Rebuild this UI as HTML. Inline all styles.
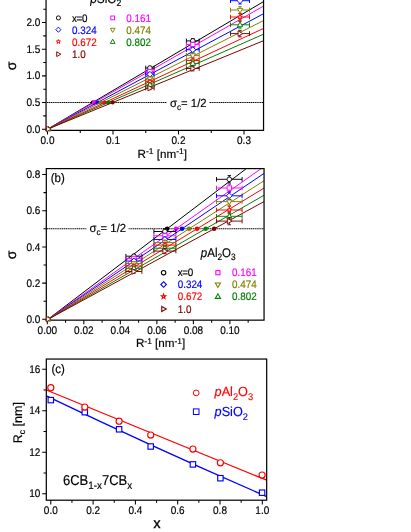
<!DOCTYPE html><html><head><meta charset="utf-8"><title>chart</title><style>html,body{margin:0;padding:0;background:#fff}svg{display:block;will-change:transform;opacity:0.999}</style></head><body>
<svg width="411" height="532" viewBox="0 0 411 532" font-family="Liberation Sans, sans-serif" text-rendering="geometricPrecision">
<rect width="411" height="532" fill="#fff"/>
<clipPath id="ca"><rect x="46.05" y="0" width="217.5" height="130.3"/></clipPath>
<path d="M47 102.5H263.55" stroke="#000" stroke-width="1.1" stroke-dasharray="1.3 0.57" fill="none"/>
<g clip-path="url(#ca)">
<path d="M47.5 129.2L263.55 1.6" stroke="#000000" stroke-width="1.0" fill="none"/>
<circle cx="92.71" cy="102.5" r="2.0" fill="#000000"/>
<path d="M47.5 129.2L263.55 6.1" stroke="#ff00ff" stroke-width="1.0" fill="none"/>
<circle cx="94.36" cy="102.5" r="2.4" fill="#ff00ff"/>
<path d="M47.5 129.2L263.55 13.7" stroke="#0000ff" stroke-width="1.0" fill="none"/>
<circle cx="97.44" cy="102.5" r="2.0" fill="#0000ff"/>
<path d="M47.5 129.2L263.55 20.6" stroke="#808000" stroke-width="1.0" fill="none"/>
<circle cx="100.62" cy="102.5" r="2.0" fill="#808000"/>
<path d="M47.5 129.2L263.55 28.4" stroke="#ff0000" stroke-width="1.0" fill="none"/>
<circle cx="104.73" cy="102.5" r="2.0" fill="#ff0000"/>
<path d="M47.5 129.2L263.55 34.2" stroke="#008000" stroke-width="1.0" fill="none"/>
<circle cx="108.22" cy="102.5" r="2.0" fill="#008000"/>
<path d="M47.5 129.2L263.55 40.7" stroke="#800000" stroke-width="1.0" fill="none"/>
<circle cx="112.68" cy="102.5" r="2.0" fill="#800000"/>
</g>
<path d="M46.05 0V130.3H263.55V0" stroke="#000" stroke-width="1.22" fill="none"/>
<text transform="translate(40.30 132.80) scale(1 1.1)" font-size="10.0" text-anchor="end" fill="#000" stroke="#000" stroke-width="0.16" >0.0</text>
<text transform="translate(40.30 106.13) scale(1 1.1)" font-size="10.0" text-anchor="end" fill="#000" stroke="#000" stroke-width="0.16" >0.5</text>
<text transform="translate(40.30 79.46) scale(1 1.1)" font-size="10.0" text-anchor="end" fill="#000" stroke="#000" stroke-width="0.16" >1.0</text>
<text transform="translate(40.30 52.79) scale(1 1.1)" font-size="10.0" text-anchor="end" fill="#000" stroke="#000" stroke-width="0.16" >1.5</text>
<text transform="translate(40.30 26.12) scale(1 1.1)" font-size="10.0" text-anchor="end" fill="#000" stroke="#000" stroke-width="0.16" >2.0</text>
<text transform="translate(47.50 144.00) scale(1 1.1)" font-size="10.0" text-anchor="middle" fill="#000" stroke="#000" stroke-width="0.16" >0.0</text>
<text transform="translate(113.00 144.00) scale(1 1.1)" font-size="10.0" text-anchor="middle" fill="#000" stroke="#000" stroke-width="0.16" >0.1</text>
<text transform="translate(178.50 144.00) scale(1 1.1)" font-size="10.0" text-anchor="middle" fill="#000" stroke="#000" stroke-width="0.16" >0.2</text>
<text transform="translate(244.00 144.00) scale(1 1.1)" font-size="10.0" text-anchor="middle" fill="#000" stroke="#000" stroke-width="0.16" >0.3</text>
<path d="M41.949999999999996 129.20H46.05M41.949999999999996 102.53H46.05M41.949999999999996 75.86H46.05M41.949999999999996 49.19H46.05M41.949999999999996 22.52H46.05M43.25 115.86H46.05M43.25 89.19H46.05M43.25 62.52H46.05M43.25 35.85H46.05M43.25 9.18H46.05M47.50 130.3V134.5M113.00 130.3V134.5M178.50 130.3V134.5M244.00 130.3V134.5M80.25 130.3V132.9M145.75 130.3V132.9M211.25 130.3V132.9" stroke="#000" stroke-width="1.05" fill="none"/>
<path stroke="#000000" stroke-width="0.95" fill="none" d="M145.70 68.00H154.10M145.70 65.70V70.30M154.10 65.70V70.30M149.90 66.40V69.60M148.20 66.40H151.60M148.20 69.60H151.60"/>
<circle cx="149.90" cy="68.00" r="2.32" fill="#fff" stroke="#000000" stroke-width="0.92"/>
<path stroke="#000000" stroke-width="0.95" fill="none" d="M186.40 40.90H199.20M186.40 38.60V43.20M199.20 38.60V43.20M192.80 38.50V43.30M191.10 38.50H194.50M191.10 43.30H194.50"/>
<circle cx="192.80" cy="40.90" r="2.32" fill="#fff" stroke="#000000" stroke-width="0.92"/>
<path stroke="#000000" stroke-width="0.95" fill="none" d="M230.50 -14.00H249.50M230.50 -16.30V-11.70M249.50 -16.30V-11.70M240.00 -17.30V-10.70M238.30 -17.30H241.70M238.30 -10.70H241.70"/>
<circle cx="240.00" cy="-14.00" r="2.32" fill="#fff" stroke="#000000" stroke-width="0.92"/>
<path stroke="#ff00ff" stroke-width="0.95" fill="none" d="M145.70 71.50H154.10M145.70 69.20V73.80M154.10 69.20V73.80M149.90 69.90V73.10M148.20 69.90H151.60M148.20 73.10H151.60"/>
<rect x="147.74" y="69.34" width="4.32" height="4.32" fill="#fff" stroke="#ff00ff" stroke-width="0.92"/>
<path stroke="#ff00ff" stroke-width="0.95" fill="none" d="M186.40 44.60H199.20M186.40 42.30V46.90M199.20 42.30V46.90M192.80 42.20V47.00M191.10 42.20H194.50M191.10 47.00H194.50"/>
<rect x="190.64" y="42.44" width="4.32" height="4.32" fill="#fff" stroke="#ff00ff" stroke-width="0.92"/>
<path stroke="#ff00ff" stroke-width="0.95" fill="none" d="M230.50 -8.00H249.50M230.50 -10.30V-5.70M249.50 -10.30V-5.70M240.00 -11.30V-4.70M238.30 -11.30H241.70M238.30 -4.70H241.70"/>
<rect x="237.84" y="-10.16" width="4.32" height="4.32" fill="#fff" stroke="#ff00ff" stroke-width="0.92"/>
<path stroke="#0000ff" stroke-width="0.95" fill="none" d="M145.70 74.30H154.10M145.70 72.00V76.60M154.10 72.00V76.60M149.90 72.70V75.90M148.20 72.70H151.60M148.20 75.90H151.60"/>
<polygon points="149.90,71.38 152.82,74.30 149.90,77.22 146.98,74.30" fill="#fff" stroke="#0000ff" stroke-width="0.92" stroke-linejoin="miter"/>
<path stroke="#0000ff" stroke-width="0.95" fill="none" d="M186.40 49.70H199.20M186.40 47.40V52.00M199.20 47.40V52.00M192.80 47.30V52.10M191.10 47.30H194.50M191.10 52.10H194.50"/>
<polygon points="192.80,46.78 195.72,49.70 192.80,52.62 189.88,49.70" fill="#fff" stroke="#0000ff" stroke-width="0.92" stroke-linejoin="miter"/>
<path stroke="#0000ff" stroke-width="0.95" fill="none" d="M230.50 0.70H249.50M230.50 -1.60V3.00M249.50 -1.60V3.00M240.00 -2.60V4.00M238.30 -2.60H241.70M238.30 4.00H241.70"/>
<polygon points="240.00,-2.22 242.92,0.70 240.00,3.62 237.08,0.70" fill="#fff" stroke="#0000ff" stroke-width="0.92" stroke-linejoin="miter"/>
<path stroke="#808000" stroke-width="0.95" fill="none" d="M145.70 78.70H154.10M145.70 76.40V81.00M154.10 76.40V81.00M149.90 77.10V80.30M148.20 77.10H151.60M148.20 80.30H151.60"/>
<polygon points="147.20,77.08 152.60,77.08 149.90,81.83" fill="#fff" stroke="#808000" stroke-width="0.92" stroke-linejoin="miter"/>
<path stroke="#808000" stroke-width="0.95" fill="none" d="M186.40 55.40H199.20M186.40 53.10V57.70M199.20 53.10V57.70M192.80 53.00V57.80M191.10 53.00H194.50M191.10 57.80H194.50"/>
<polygon points="190.10,53.78 195.50,53.78 192.80,58.53" fill="#fff" stroke="#808000" stroke-width="0.92" stroke-linejoin="miter"/>
<path stroke="#808000" stroke-width="0.95" fill="none" d="M230.50 10.00H249.50M230.50 7.70V12.30M249.50 7.70V12.30M240.00 6.70V13.30M238.30 6.70H241.70M238.30 13.30H241.70"/>
<polygon points="237.30,8.38 242.70,8.38 240.00,13.13" fill="#fff" stroke="#808000" stroke-width="0.92" stroke-linejoin="miter"/>
<path stroke="#ff0000" stroke-width="0.95" fill="none" d="M145.70 81.60H154.10M145.70 79.30V83.90M154.10 79.30V83.90M149.90 80.00V83.20M148.20 80.00H151.60M148.20 83.20H151.60"/>
<polygon points="149.90,79.12 150.50,80.77 152.26,80.83 150.88,81.92 151.36,83.61 149.90,82.63 148.44,83.61 148.92,81.92 147.54,80.83 149.30,80.77" fill="#fff" stroke="#ff0000" stroke-width="0.92" stroke-linejoin="miter"/>
<path stroke="#ff0000" stroke-width="0.95" fill="none" d="M186.40 60.50H199.20M186.40 58.20V62.80M199.20 58.20V62.80M192.80 58.10V62.90M191.10 58.10H194.50M191.10 62.90H194.50"/>
<polygon points="192.80,58.02 193.40,59.67 195.16,59.73 193.78,60.82 194.26,62.51 192.80,61.53 191.34,62.51 191.82,60.82 190.44,59.73 192.20,59.67" fill="#fff" stroke="#ff0000" stroke-width="0.92" stroke-linejoin="miter"/>
<path stroke="#ff0000" stroke-width="0.95" fill="none" d="M230.50 17.00H249.50M230.50 14.70V19.30M249.50 14.70V19.30M240.00 13.70V20.30M238.30 13.70H241.70M238.30 20.30H241.70"/>
<polygon points="240.00,14.52 240.60,16.17 242.36,16.23 240.98,17.32 241.46,19.01 240.00,18.03 238.54,19.01 239.02,17.32 237.64,16.23 239.40,16.17" fill="#fff" stroke="#ff0000" stroke-width="0.92" stroke-linejoin="miter"/>
<path stroke="#008000" stroke-width="0.95" fill="none" d="M145.70 84.90H154.10M145.70 82.60V87.20M154.10 82.60V87.20M149.90 83.30V86.50M148.20 83.30H151.60M148.20 86.50H151.60"/>
<polygon points="147.20,86.84 152.60,86.84 149.90,82.09" fill="#fff" stroke="#008000" stroke-width="0.92" stroke-linejoin="miter"/>
<path stroke="#008000" stroke-width="0.95" fill="none" d="M186.40 63.40H199.20M186.40 61.10V65.70M199.20 61.10V65.70M192.80 61.00V65.80M191.10 61.00H194.50M191.10 65.80H194.50"/>
<polygon points="190.10,65.34 195.50,65.34 192.80,60.59" fill="#fff" stroke="#008000" stroke-width="0.92" stroke-linejoin="miter"/>
<path stroke="#008000" stroke-width="0.95" fill="none" d="M230.50 24.80H249.50M230.50 22.50V27.10M249.50 22.50V27.10M240.00 21.50V28.10M238.30 21.50H241.70M238.30 28.10H241.70"/>
<polygon points="237.30,26.74 242.70,26.74 240.00,21.99" fill="#fff" stroke="#008000" stroke-width="0.92" stroke-linejoin="miter"/>
<path stroke="#800000" stroke-width="0.95" fill="none" d="M145.70 88.10H154.10M145.70 85.80V90.40M154.10 85.80V90.40M149.90 86.50V89.70M148.20 86.50H151.60M148.20 89.70H151.60"/>
<polygon points="147.96,85.40 147.96,90.80 152.71,88.10" fill="#fff" stroke="#800000" stroke-width="0.92" stroke-linejoin="miter"/>
<path stroke="#800000" stroke-width="0.95" fill="none" d="M186.40 68.50H199.20M186.40 66.20V70.80M199.20 66.20V70.80M192.80 66.10V70.90M191.10 66.10H194.50M191.10 70.90H194.50"/>
<polygon points="190.86,65.80 190.86,71.20 195.61,68.50" fill="#fff" stroke="#800000" stroke-width="0.92" stroke-linejoin="miter"/>
<path stroke="#800000" stroke-width="0.95" fill="none" d="M230.50 33.60H249.50M230.50 31.30V35.90M249.50 31.30V35.90M240.00 30.30V36.90M238.30 30.30H241.70M238.30 36.90H241.70"/>
<polygon points="238.06,30.90 238.06,36.30 242.81,33.60" fill="#fff" stroke="#800000" stroke-width="0.92" stroke-linejoin="miter"/>
<polygon points="48.40,126.52 49.00,128.17 50.76,128.23 49.38,129.32 49.86,131.01 48.40,130.03 46.94,131.01 47.42,129.32 46.04,128.23 47.80,128.17" fill="#fff" stroke="#ff0000" stroke-width="0.85" stroke-linejoin="miter"/>
<polygon points="45.70,130.94 51.10,130.94 48.40,126.19" fill="#fff" stroke="#008000" stroke-width="0.85" stroke-linejoin="miter"/>
<polygon points="46.46,126.30 46.46,131.70 51.21,129.00" fill="#fff" stroke="#800000" stroke-width="0.85" stroke-linejoin="miter"/>
<rect x="167" y="96" width="42" height="14" fill="#fff"/>
<text transform="translate(170.00 106.60) scale(1 1.04)" font-size="11.3" text-anchor="start" fill="#000" stroke="#000" stroke-width="0.16" >σ<tspan dy="3.1" font-size="73%">c</tspan><tspan dy="-3.1" font-size="1">&#8203;</tspan>= 1/2</text>
<text transform="translate(162.20 157.50) scale(1 1.0)" font-size="11.7" text-anchor="middle" fill="#000" stroke="#000" stroke-width="0.16" >R<tspan dy="-3.5" font-size="72%">-1</tspan><tspan dy="3.5" font-size="1">&#8203;</tspan> [nm<tspan dy="-3.5" font-size="72%">-1</tspan><tspan dy="3.5" font-size="1">&#8203;</tspan>]</text>
<text transform="translate(16.2,66) rotate(-90)" font-size="14" text-anchor="middle" stroke="#000" stroke-width="0.25">σ</text>
<text transform="translate(90.20 2.90) scale(1 1.1)" font-size="11.8" text-anchor="start" fill="#000" stroke="#000" stroke-width="0.16" ><tspan font-style="italic">p</tspan>SiO<tspan dy="3.1" font-size="73%">2</tspan><tspan dy="-3.1" font-size="1">&#8203;</tspan></text>
<circle cx="58.40" cy="17.90" r="2.04" fill="#fff" stroke="#000000" stroke-width="0.95"/>
<text transform="translate(72.00 21.90) scale(1 1.1)" font-size="9.85" text-anchor="start" fill="#000000" stroke="#000000" stroke-width="0.16" letter-spacing="-0.35">x=0</text>
<polygon points="58.40,27.13 60.96,29.70 58.40,32.27 55.84,29.70" fill="#fff" stroke="#0000ff" stroke-width="0.95" stroke-linejoin="miter"/>
<text transform="translate(72.00 33.70) scale(1 1.1)" font-size="9.85" text-anchor="start" fill="#0000ff" stroke="#0000ff" stroke-width="0.16" >0.324</text>
<polygon points="58.40,39.52 58.93,40.97 60.48,41.02 59.26,41.98 59.68,43.47 58.40,42.60 57.12,43.47 57.54,41.98 56.32,41.02 57.87,40.97" fill="#fff" stroke="#ff0000" stroke-width="0.95" stroke-linejoin="miter"/>
<text transform="translate(72.00 45.70) scale(1 1.1)" font-size="9.85" text-anchor="start" fill="#ff0000" stroke="#ff0000" stroke-width="0.16" >0.672</text>
<polygon points="56.69,51.82 56.69,56.57 60.87,54.20" fill="#fff" stroke="#800000" stroke-width="0.95" stroke-linejoin="miter"/>
<text transform="translate(72.00 58.20) scale(1 1.1)" font-size="9.85" text-anchor="start" fill="#800000" stroke="#800000" stroke-width="0.16" >1.0</text>
<rect x="110.80" y="16.00" width="3.80" height="3.80" fill="#fff" stroke="#ff00ff" stroke-width="0.95"/>
<text transform="translate(126.30 21.90) scale(1 1.1)" font-size="9.85" text-anchor="start" fill="#ff00ff" stroke="#ff00ff" stroke-width="0.16" >0.161</text>
<polygon points="110.32,28.27 115.07,28.27 112.70,32.45" fill="#fff" stroke="#808000" stroke-width="0.95" stroke-linejoin="miter"/>
<text transform="translate(126.30 33.70) scale(1 1.1)" font-size="9.85" text-anchor="start" fill="#808000" stroke="#808000" stroke-width="0.16" >0.474</text>
<polygon points="110.32,43.41 115.07,43.41 112.70,39.23" fill="#fff" stroke="#008000" stroke-width="0.95" stroke-linejoin="miter"/>
<text transform="translate(126.30 45.70) scale(1 1.1)" font-size="9.85" text-anchor="start" fill="#008000" stroke="#008000" stroke-width="0.16" >0.802</text>
<clipPath id="cb"><rect x="46.3" y="168.6" width="217.75" height="151.54999999999998"/></clipPath>
<path d="M47 228.8H264.05" stroke="#000" stroke-width="1.1" stroke-dasharray="1.3 0.57" fill="none"/>
<g clip-path="url(#cb)">
<path d="M47.7 319.5L266.05 153.63" stroke="#000000" stroke-width="1.0" fill="none"/>
<circle cx="167.10" cy="228.8" r="2.3" fill="#000000"/>
<path d="M47.7 319.5L266.05 165.14" stroke="#ff00ff" stroke-width="1.0" fill="none"/>
<circle cx="176.00" cy="228.8" r="2.3" fill="#ff00ff"/>
<path d="M47.7 319.5L266.05 172.04" stroke="#0000ff" stroke-width="1.0" fill="none"/>
<circle cx="182.00" cy="228.8" r="2.3" fill="#0000ff"/>
<path d="M47.7 319.5L266.05 179.44" stroke="#808000" stroke-width="1.0" fill="none"/>
<circle cx="189.10" cy="228.8" r="2.3" fill="#808000"/>
<path d="M47.7 319.5L266.05 186.85" stroke="#ff0000" stroke-width="1.0" fill="none"/>
<circle cx="197.00" cy="228.8" r="2.3" fill="#ff0000"/>
<path d="M47.7 319.5L266.05 194.08" stroke="#008000" stroke-width="1.0" fill="none"/>
<circle cx="205.60" cy="228.8" r="2.3" fill="#008000"/>
<path d="M47.7 319.5L266.05 200.48" stroke="#800000" stroke-width="1.0" fill="none"/>
<circle cx="214.10" cy="228.8" r="2.3" fill="#800000"/>
</g>
<rect x="46.3" y="168.6" width="217.75" height="151.54999999999998" stroke="#000" stroke-width="1.22" fill="none"/>
<text transform="translate(40.30 322.90) scale(1 1.1)" font-size="10.0" text-anchor="end" fill="#000" stroke="#000" stroke-width="0.16" >0.0</text>
<text transform="translate(40.30 286.70) scale(1 1.1)" font-size="10.0" text-anchor="end" fill="#000" stroke="#000" stroke-width="0.16" >0.2</text>
<text transform="translate(40.30 250.50) scale(1 1.1)" font-size="10.0" text-anchor="end" fill="#000" stroke="#000" stroke-width="0.16" >0.4</text>
<text transform="translate(40.30 214.30) scale(1 1.1)" font-size="10.0" text-anchor="end" fill="#000" stroke="#000" stroke-width="0.16" >0.6</text>
<text transform="translate(40.30 178.10) scale(1 1.1)" font-size="10.0" text-anchor="end" fill="#000" stroke="#000" stroke-width="0.16" >0.8</text>
<text transform="translate(47.30 333.80) scale(1 1.1)" font-size="10.0" text-anchor="middle" fill="#000" stroke="#000" stroke-width="0.16" >0.00</text>
<text transform="translate(83.82 333.80) scale(1 1.1)" font-size="10.0" text-anchor="middle" fill="#000" stroke="#000" stroke-width="0.16" >0.02</text>
<text transform="translate(120.34 333.80) scale(1 1.1)" font-size="10.0" text-anchor="middle" fill="#000" stroke="#000" stroke-width="0.16" >0.04</text>
<text transform="translate(156.86 333.80) scale(1 1.1)" font-size="10.0" text-anchor="middle" fill="#000" stroke="#000" stroke-width="0.16" >0.06</text>
<text transform="translate(193.38 333.80) scale(1 1.1)" font-size="10.0" text-anchor="middle" fill="#000" stroke="#000" stroke-width="0.16" >0.08</text>
<text transform="translate(229.90 333.80) scale(1 1.1)" font-size="10.0" text-anchor="middle" fill="#000" stroke="#000" stroke-width="0.16" >0.10</text>
<path d="M42.199999999999996 319.30H46.3M42.199999999999996 283.10H46.3M42.199999999999996 246.90H46.3M42.199999999999996 210.70H46.3M42.199999999999996 174.50H46.3M43.5 301.20H46.3M43.5 265.00H46.3M43.5 228.80H46.3M43.5 192.60H46.3M47.30 320.15V324.34999999999997M83.82 320.15V324.34999999999997M120.34 320.15V324.34999999999997M156.86 320.15V324.34999999999997M193.38 320.15V324.34999999999997M229.90 320.15V324.34999999999997M65.56 320.15V322.75M102.08 320.15V322.75M138.60 320.15V322.75M175.12 320.15V322.75M211.64 320.15V322.75M248.16 320.15V322.75" stroke="#000" stroke-width="1.05" fill="none"/>
<path stroke="#000000" stroke-width="0.95" fill="none" d="M125.90 256.20H141.90M125.90 253.90V258.50M141.90 253.90V258.50M133.90 254.40V258.00M132.20 254.40H135.60M132.20 258.00H135.60"/>
<circle cx="133.90" cy="256.20" r="2.32" fill="#fff" stroke="#000000" stroke-width="0.92"/>
<path stroke="#000000" stroke-width="0.95" fill="none" d="M153.90 231.50H175.90M153.90 229.20V233.80M175.90 229.20V233.80M164.90 228.90V234.10M163.20 228.90H166.60M163.20 234.10H166.60"/>
<circle cx="164.90" cy="231.50" r="2.32" fill="#fff" stroke="#000000" stroke-width="0.92"/>
<path stroke="#000000" stroke-width="0.95" fill="none" d="M216.50 179.30H242.10M216.50 177.00V181.60M242.10 177.00V181.60M229.30 175.60V183.00M227.60 175.60H231.00M227.60 183.00H231.00"/>
<circle cx="229.30" cy="179.30" r="2.32" fill="#fff" stroke="#000000" stroke-width="0.92"/>
<path stroke="#ff00ff" stroke-width="0.95" fill="none" d="M125.90 258.40H141.90M125.90 256.10V260.70M141.90 256.10V260.70M133.90 256.60V260.20M132.20 256.60H135.60M132.20 260.20H135.60"/>
<rect x="131.74" y="256.24" width="4.32" height="4.32" fill="#fff" stroke="#ff00ff" stroke-width="0.92"/>
<path stroke="#ff00ff" stroke-width="0.95" fill="none" d="M153.90 235.80H175.90M153.90 233.50V238.10M175.90 233.50V238.10M164.90 233.20V238.40M163.20 233.20H166.60M163.20 238.40H166.60"/>
<rect x="162.74" y="233.64" width="4.32" height="4.32" fill="#fff" stroke="#ff00ff" stroke-width="0.92"/>
<path stroke="#ff00ff" stroke-width="0.95" fill="none" d="M216.50 188.00H242.10M216.50 185.70V190.30M242.10 185.70V190.30M229.30 184.30V191.70M227.60 184.30H231.00M227.60 191.70H231.00"/>
<rect x="227.14" y="185.84" width="4.32" height="4.32" fill="#fff" stroke="#ff00ff" stroke-width="0.92"/>
<path stroke="#0000ff" stroke-width="0.95" fill="none" d="M125.90 261.00H141.90M125.90 258.70V263.30M141.90 258.70V263.30M133.90 259.20V262.80M132.20 259.20H135.60M132.20 262.80H135.60"/>
<polygon points="133.90,258.08 136.82,261.00 133.90,263.92 130.98,261.00" fill="#fff" stroke="#0000ff" stroke-width="0.92" stroke-linejoin="miter"/>
<path stroke="#0000ff" stroke-width="0.95" fill="none" d="M153.90 239.50H175.90M153.90 237.20V241.80M175.90 237.20V241.80M164.90 236.90V242.10M163.20 236.90H166.60M163.20 242.10H166.60"/>
<polygon points="164.90,236.58 167.82,239.50 164.90,242.42 161.98,239.50" fill="#fff" stroke="#0000ff" stroke-width="0.92" stroke-linejoin="miter"/>
<path stroke="#0000ff" stroke-width="0.95" fill="none" d="M216.50 195.80H242.10M216.50 193.50V198.10M242.10 193.50V198.10M229.30 192.10V199.50M227.60 192.10H231.00M227.60 199.50H231.00"/>
<polygon points="229.30,192.88 232.22,195.80 229.30,198.72 226.38,195.80" fill="#fff" stroke="#0000ff" stroke-width="0.92" stroke-linejoin="miter"/>
<path stroke="#808000" stroke-width="0.95" fill="none" d="M125.90 263.50H141.90M125.90 261.20V265.80M141.90 261.20V265.80M133.90 261.70V265.30M132.20 261.70H135.60M132.20 265.30H135.60"/>
<polygon points="131.20,261.88 136.60,261.88 133.90,266.63" fill="#fff" stroke="#808000" stroke-width="0.92" stroke-linejoin="miter"/>
<path stroke="#808000" stroke-width="0.95" fill="none" d="M153.90 242.60H175.90M153.90 240.30V244.90M175.90 240.30V244.90M164.90 240.00V245.20M163.20 240.00H166.60M163.20 245.20H166.60"/>
<polygon points="162.20,240.98 167.60,240.98 164.90,245.73" fill="#fff" stroke="#808000" stroke-width="0.92" stroke-linejoin="miter"/>
<path stroke="#808000" stroke-width="0.95" fill="none" d="M216.50 201.60H242.10M216.50 199.30V203.90M242.10 199.30V203.90M229.30 197.90V205.30M227.60 197.90H231.00M227.60 205.30H231.00"/>
<polygon points="226.60,199.98 232.00,199.98 229.30,204.73" fill="#fff" stroke="#808000" stroke-width="0.92" stroke-linejoin="miter"/>
<path stroke="#ff0000" stroke-width="0.95" fill="none" d="M125.90 266.00H141.90M125.90 263.70V268.30M141.90 263.70V268.30M133.90 264.20V267.80M132.20 264.20H135.60M132.20 267.80H135.60"/>
<polygon points="133.90,263.52 134.50,265.17 136.26,265.23 134.88,266.32 135.36,268.01 133.90,267.03 132.44,268.01 132.92,266.32 131.54,265.23 133.30,265.17" fill="#fff" stroke="#ff0000" stroke-width="0.92" stroke-linejoin="miter"/>
<path stroke="#ff0000" stroke-width="0.95" fill="none" d="M153.90 245.10H175.90M153.90 242.80V247.40M175.90 242.80V247.40M164.90 242.50V247.70M163.20 242.50H166.60M163.20 247.70H166.60"/>
<polygon points="164.90,242.62 165.50,244.27 167.26,244.33 165.88,245.42 166.36,247.11 164.90,246.13 163.44,247.11 163.92,245.42 162.54,244.33 164.30,244.27" fill="#fff" stroke="#ff0000" stroke-width="0.92" stroke-linejoin="miter"/>
<path stroke="#ff0000" stroke-width="0.95" fill="none" d="M216.50 210.00H242.10M216.50 207.70V212.30M242.10 207.70V212.30M229.30 206.30V213.70M227.60 206.30H231.00M227.60 213.70H231.00"/>
<polygon points="229.30,207.52 229.90,209.17 231.66,209.23 230.28,210.32 230.76,212.01 229.30,211.03 227.84,212.01 228.32,210.32 226.94,209.23 228.70,209.17" fill="#fff" stroke="#ff0000" stroke-width="0.92" stroke-linejoin="miter"/>
<path stroke="#008000" stroke-width="0.95" fill="none" d="M125.90 268.30H141.90M125.90 266.00V270.60M141.90 266.00V270.60M133.90 266.50V270.10M132.20 266.50H135.60M132.20 270.10H135.60"/>
<polygon points="131.20,270.24 136.60,270.24 133.90,265.49" fill="#fff" stroke="#008000" stroke-width="0.92" stroke-linejoin="miter"/>
<path stroke="#008000" stroke-width="0.95" fill="none" d="M153.90 248.20H175.90M153.90 245.90V250.50M175.90 245.90V250.50M164.90 245.60V250.80M163.20 245.60H166.60M163.20 250.80H166.60"/>
<polygon points="162.20,250.14 167.60,250.14 164.90,245.39" fill="#fff" stroke="#008000" stroke-width="0.92" stroke-linejoin="miter"/>
<path stroke="#008000" stroke-width="0.95" fill="none" d="M216.50 216.30H242.10M216.50 214.00V218.60M242.10 214.00V218.60M229.30 212.60V220.00M227.60 212.60H231.00M227.60 220.00H231.00"/>
<polygon points="226.60,218.24 232.00,218.24 229.30,213.49" fill="#fff" stroke="#008000" stroke-width="0.92" stroke-linejoin="miter"/>
<path stroke="#800000" stroke-width="0.95" fill="none" d="M125.90 271.50H141.90M125.90 269.20V273.80M141.90 269.20V273.80M133.90 269.70V273.30M132.20 269.70H135.60M132.20 273.30H135.60"/>
<polygon points="131.96,268.80 131.96,274.20 136.71,271.50" fill="#fff" stroke="#800000" stroke-width="0.92" stroke-linejoin="miter"/>
<path stroke="#800000" stroke-width="0.95" fill="none" d="M153.90 251.10H175.90M153.90 248.80V253.40M175.90 248.80V253.40M164.90 248.50V253.70M163.20 248.50H166.60M163.20 253.70H166.60"/>
<polygon points="162.96,248.40 162.96,253.80 167.71,251.10" fill="#fff" stroke="#800000" stroke-width="0.92" stroke-linejoin="miter"/>
<path stroke="#800000" stroke-width="0.95" fill="none" d="M216.50 221.10H242.10M216.50 218.80V223.40M242.10 218.80V223.40M229.30 217.40V224.80M227.60 217.40H231.00M227.60 224.80H231.00"/>
<polygon points="227.36,218.40 227.36,223.80 232.11,221.10" fill="#fff" stroke="#800000" stroke-width="0.92" stroke-linejoin="miter"/>
<polygon points="48.30,316.62 48.90,318.27 50.66,318.33 49.28,319.42 49.76,321.11 48.30,320.13 46.84,321.11 47.32,319.42 45.94,318.33 47.70,318.27" fill="#fff" stroke="#ff0000" stroke-width="0.85" stroke-linejoin="miter"/>
<polygon points="45.60,321.04 51.00,321.04 48.30,316.29" fill="#fff" stroke="#008000" stroke-width="0.85" stroke-linejoin="miter"/>
<polygon points="46.36,316.40 46.36,321.80 51.11,319.10" fill="#fff" stroke="#800000" stroke-width="0.85" stroke-linejoin="miter"/>
<rect x="86.5" y="221" width="42" height="14" fill="#fff"/>
<text transform="translate(89.50 231.60) scale(1 1.04)" font-size="11.3" text-anchor="start" fill="#000" stroke="#000" stroke-width="0.16" >σ<tspan dy="3.1" font-size="73%">c</tspan><tspan dy="-3.1" font-size="1">&#8203;</tspan>= 1/2</text>
<text transform="translate(50.70 182.20) scale(1 1.07)" font-size="11.5" text-anchor="start" fill="#000" stroke="#000" stroke-width="0.16" >(b)</text>
<text transform="translate(200.80 256.60) scale(1 1.1)" font-size="11.5" text-anchor="start" fill="#000" stroke="#000" stroke-width="0.16" ><tspan font-style="italic">p</tspan>Al<tspan dy="3.1" font-size="73%">2</tspan><tspan dy="-3.1" font-size="1">&#8203;</tspan>O<tspan dy="3.1" font-size="73%">3</tspan><tspan dy="-3.1" font-size="1">&#8203;</tspan></text>
<circle cx="163.60" cy="272.70" r="2.21" fill="#fff" stroke="#000000" stroke-width="1.1"/>
<text transform="translate(177.70 276.20) scale(1 1.1)" font-size="9.85" text-anchor="start" fill="#000000" stroke="#000000" stroke-width="0.16" letter-spacing="-0.35">x=0</text>
<polygon points="163.60,281.72 166.38,284.50 163.60,287.28 160.82,284.50" fill="#fff" stroke="#0000ff" stroke-width="1.1" stroke-linejoin="miter"/>
<text transform="translate(177.70 288.00) scale(1 1.1)" font-size="9.85" text-anchor="start" fill="#0000ff" stroke="#0000ff" stroke-width="0.16" >0.324</text>
<polygon points="163.60,294.13 164.18,295.71 165.85,295.77 164.53,296.80 164.99,298.42 163.60,297.48 162.21,298.42 162.67,296.80 161.35,295.77 163.02,295.71" fill="#fff" stroke="#ff0000" stroke-width="1.1" stroke-linejoin="miter"/>
<text transform="translate(177.70 300.00) scale(1 1.1)" font-size="9.85" text-anchor="start" fill="#ff0000" stroke="#ff0000" stroke-width="0.16" >0.672</text>
<polygon points="161.75,306.43 161.75,311.57 166.28,309.00" fill="#fff" stroke="#800000" stroke-width="1.1" stroke-linejoin="miter"/>
<text transform="translate(177.70 312.50) scale(1 1.1)" font-size="9.85" text-anchor="start" fill="#800000" stroke="#800000" stroke-width="0.16" >1.0</text>
<rect x="215.84" y="270.64" width="4.12" height="4.12" fill="#fff" stroke="#ff00ff" stroke-width="1.1"/>
<text transform="translate(232.00 276.20) scale(1 1.1)" font-size="9.85" text-anchor="start" fill="#ff00ff" stroke="#ff00ff" stroke-width="0.16" >0.161</text>
<polygon points="215.32,282.95 220.47,282.95 217.90,287.49" fill="#fff" stroke="#808000" stroke-width="1.1" stroke-linejoin="miter"/>
<text transform="translate(232.00 288.00) scale(1 1.1)" font-size="9.85" text-anchor="start" fill="#808000" stroke="#808000" stroke-width="0.16" >0.474</text>
<polygon points="215.32,298.35 220.47,298.35 217.90,293.82" fill="#fff" stroke="#008000" stroke-width="1.1" stroke-linejoin="miter"/>
<text transform="translate(232.00 300.00) scale(1 1.1)" font-size="9.85" text-anchor="start" fill="#008000" stroke="#008000" stroke-width="0.16" >0.802</text>
<text transform="translate(160.60 347.30) scale(1 1.0)" font-size="11.7" text-anchor="middle" fill="#000" stroke="#000" stroke-width="0.16" >R<tspan dy="-3.5" font-size="72%">-1</tspan><tspan dy="3.5" font-size="1">&#8203;</tspan> [nm<tspan dy="-3.5" font-size="72%">-1</tspan><tspan dy="3.5" font-size="1">&#8203;</tspan>]</text>
<text transform="translate(16.4,255) rotate(-90)" font-size="14" text-anchor="middle" stroke="#000" stroke-width="0.25">σ</text>
<clipPath id="cc"><rect x="46.3" y="359.05" width="220.38" height="141.14999999999998"/></clipPath>
<g clip-path="url(#cc)">
<path d="M46.3 390.0Q156.4 435.2 266.68 480.2" stroke="#ff0000" stroke-width="1.3" fill="none"/>
<path d="M46.3 395.9Q156.4 448.8 266.68 496.55" stroke="#0000ff" stroke-width="1.3" fill="none"/>
</g>
<rect x="46.3" y="359.05" width="220.38" height="141.14999999999998" stroke="#000" stroke-width="1.22" fill="none"/>
<rect x="48.10" y="397.40" width="5.4" height="5.4" fill="#fff" stroke="#0000ff" stroke-width="1.15"/>
<rect x="82.10" y="409.50" width="5.4" height="5.4" fill="#fff" stroke="#0000ff" stroke-width="1.15"/>
<rect x="116.40" y="426.60" width="5.4" height="5.4" fill="#fff" stroke="#0000ff" stroke-width="1.15"/>
<rect x="148.00" y="443.80" width="5.4" height="5.4" fill="#fff" stroke="#0000ff" stroke-width="1.15"/>
<rect x="190.20" y="461.70" width="5.4" height="5.4" fill="#fff" stroke="#0000ff" stroke-width="1.15"/>
<rect x="217.70" y="475.50" width="5.4" height="5.4" fill="#fff" stroke="#0000ff" stroke-width="1.15"/>
<rect x="259.40" y="490.00" width="5.4" height="5.4" fill="#fff" stroke="#0000ff" stroke-width="1.15"/>
<circle cx="50.80" cy="387.70" r="3.05" fill="#fff" stroke="#ff0000" stroke-width="1.15"/>
<circle cx="84.80" cy="407.00" r="3.05" fill="#fff" stroke="#ff0000" stroke-width="1.15"/>
<circle cx="119.10" cy="421.20" r="3.05" fill="#fff" stroke="#ff0000" stroke-width="1.15"/>
<circle cx="150.70" cy="435.00" r="3.05" fill="#fff" stroke="#ff0000" stroke-width="1.15"/>
<circle cx="192.90" cy="449.00" r="3.05" fill="#fff" stroke="#ff0000" stroke-width="1.15"/>
<circle cx="220.40" cy="462.80" r="3.05" fill="#fff" stroke="#ff0000" stroke-width="1.15"/>
<circle cx="262.10" cy="475.00" r="3.05" fill="#fff" stroke="#ff0000" stroke-width="1.15"/>
<text transform="translate(40.30 497.40) scale(1 1.1)" font-size="10.0" text-anchor="end" fill="#000" stroke="#000" stroke-width="0.16" >10</text>
<text transform="translate(40.30 455.90) scale(1 1.1)" font-size="10.0" text-anchor="end" fill="#000" stroke="#000" stroke-width="0.16" >12</text>
<text transform="translate(40.30 414.40) scale(1 1.1)" font-size="10.0" text-anchor="end" fill="#000" stroke="#000" stroke-width="0.16" >14</text>
<text transform="translate(40.30 372.90) scale(1 1.1)" font-size="10.0" text-anchor="end" fill="#000" stroke="#000" stroke-width="0.16" >16</text>
<text transform="translate(50.80 513.80) scale(1 1.1)" font-size="10.0" text-anchor="middle" fill="#000" stroke="#000" stroke-width="0.16" >0.0</text>
<text transform="translate(93.10 513.80) scale(1 1.1)" font-size="10.0" text-anchor="middle" fill="#000" stroke="#000" stroke-width="0.16" >0.2</text>
<text transform="translate(135.40 513.80) scale(1 1.1)" font-size="10.0" text-anchor="middle" fill="#000" stroke="#000" stroke-width="0.16" >0.4</text>
<text transform="translate(177.70 513.80) scale(1 1.1)" font-size="10.0" text-anchor="middle" fill="#000" stroke="#000" stroke-width="0.16" >0.6</text>
<text transform="translate(220.00 513.80) scale(1 1.1)" font-size="10.0" text-anchor="middle" fill="#000" stroke="#000" stroke-width="0.16" >0.8</text>
<text transform="translate(262.30 513.80) scale(1 1.1)" font-size="10.0" text-anchor="middle" fill="#000" stroke="#000" stroke-width="0.16" >1.0</text>
<path d="M42.199999999999996 493.80H46.3M42.199999999999996 452.30H46.3M42.199999999999996 410.80H46.3M42.199999999999996 369.30H46.3M43.5 473.05H46.3M43.5 431.55H46.3M43.5 390.05H46.3M50.80 500.2V504.4M93.10 500.2V504.4M135.40 500.2V504.4M177.70 500.2V504.4M220.00 500.2V504.4M262.30 500.2V504.4M71.95 500.2V502.8M114.25 500.2V502.8M156.55 500.2V502.8M198.85 500.2V502.8M241.15 500.2V502.8" stroke="#000" stroke-width="1.05" fill="none"/>
<text transform="translate(51.40 373.30) scale(1 1.07)" font-size="11.5" text-anchor="start" fill="#000" stroke="#000" stroke-width="0.16" >(c)</text>
<text transform="translate(62.90 484.80) scale(1 1.1)" font-size="13" text-anchor="start" fill="#000" stroke="#000" stroke-width="0.16" >6CB<tspan dy="3.5" font-size="76%">1-x</tspan><tspan dy="-3.5" font-size="1">&#8203;</tspan>7CB<tspan dy="3.5" font-size="76%">x</tspan><tspan dy="-3.5" font-size="1">&#8203;</tspan></text>
<circle cx="196.2" cy="392.9" r="2.9" fill="#fff" stroke="#ff0000" stroke-width="1"/>
<text transform="translate(214.60 396.40) scale(1 1.04)" font-size="12.7" text-anchor="start" fill="#ff0000" stroke="#ff0000" stroke-width="0.16" ><tspan font-style="italic">p</tspan>Al<tspan dy="3.1" font-size="73%">2</tspan><tspan dy="-3.1" font-size="1">&#8203;</tspan>O<tspan dy="3.1" font-size="73%">3</tspan><tspan dy="-3.1" font-size="1">&#8203;</tspan></text>
<rect x="193.4" y="408.9" width="5.6" height="5.6" fill="#fff" stroke="#0000ff" stroke-width="1"/>
<text transform="translate(214.60 416.40) scale(1 1.04)" font-size="12.7" text-anchor="start" fill="#0000ff" stroke="#0000ff" stroke-width="0.16" ><tspan font-style="italic">p</tspan>SiO<tspan dy="3.1" font-size="73%">2</tspan><tspan dy="-3.1" font-size="1">&#8203;</tspan></text>
<text transform="translate(157.00 528.40) scale(1 1.02)" font-size="14" text-anchor="middle" fill="#000" stroke="#000" stroke-width="0.4" >x</text>
<text transform="translate(21.9,422.7) rotate(-90)" font-size="12.5" text-anchor="middle" stroke="#000" stroke-width="0.18">R<tspan dy="3.4" font-size="70%">c</tspan><tspan dy="-3.4" font-size="1">&#8203;</tspan> [nm]</text>
</svg></body></html>
